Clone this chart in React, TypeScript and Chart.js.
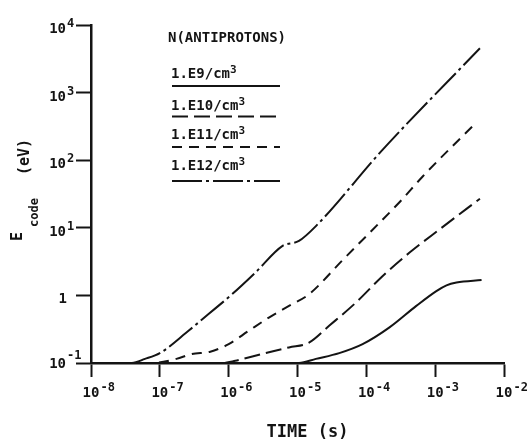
import { useEffect, useRef } from "react";
import { Chart, registerables } from "chart.js";

Chart.register(...registerables);

const FONT = '"DejaVu Sans Mono", "Liberation Mono", monospace';
const INK = "#141414";

// Axis decades
const timeTicks = [1e-8, 1e-7, 1e-6, 1e-5, 1e-4, 1e-3, 1e-2];
const energyTicks = [1e-1, 1, 1e1, 1e2, 1e3, 1e4];

// Text
const legendTitle = "N(ANTIPROTONS)";
const densityLabels = ["1.E9", "1.E10", "1.E11", "1.E12"];
const xTitle = "TIME (s)";

// Antiproton density 1e9 /cm^3
const timeN9 = [1e-8, 1.05e-5, 1.85e-5, 4.04e-5, 8.83e-5, 2.17e-4, 5.32e-4, 1.04e-3, 1.46e-3, 2.04e-3, 4.72e-3];
const energyN9 = [0.1, 0.1, 0.115, 0.14, 0.19, 0.336, 0.7, 1.16, 1.41, 1.55, 1.69];

// Antiproton density 1e10 /cm^3
const timeN10 = [1e-8, 7.9e-7, 1.25e-6, 3.06e-6, 7.52e-6, 1.47e-5, 2.88e-5, 7.08e-5, 1.73e-4, 4.25e-4, 1.16e-3, 4.47e-3];
const energyN10 = [0.1, 0.1, 0.108, 0.136, 0.17, 0.2, 0.355, 0.785, 1.94, 4.3, 9.5, 26.9];

// Antiproton density 1e11 /cm^3
const timeN11 = [1e-8, 7.9e-8, 1.74e-7, 2.91e-7, 5.41e-7, 1.0e-6, 1.96e-6, 3.84e-6, 7.52e-6, 1.47e-5, 4.51e-5, 1.11e-4, 3.03e-4, 6.64e-4, 4.0e-3];
const energyN11 = [0.1, 0.1, 0.115, 0.136, 0.147, 0.19, 0.3, 0.47, 0.7, 1.04, 3.32, 8.4, 23.9, 58, 365];

// Antiproton density 1e12 /cm^3
const timeN12 = [1e-8, 3.8e-8, 6.08e-8, 1.0e-7, 2.61e-7, 5.1e-7, 1.12e-6, 2.45e-6, 6.0e-6, 1.05e-5, 1.85e-5, 1.64e-4, 4.47e-3];
const energyN12 = [0.1, 0.1, 0.115, 0.14, 0.3, 0.53, 1.04, 2.18, 5.37, 6.4, 10.6, 135, 4530];

const seriesTimes = [timeN9, timeN10, timeN11, timeN12];
const seriesEnergies = [energyN9, energyN10, energyN11, energyN12];
const seriesDash = [[], [16, 6], [10, 7], [30, 4, 3, 4]];

function drawPower(ctx: CanvasRenderingContext2D, x: number, y: number, exp: number, baseSize: number, expSize: number, rise: number, align: "center" | "right") {
  ctx.font = `bold ${baseSize}px ${FONT}`;
  const bw = ctx.measureText("10").width;
  const left = align === "center" ? x - bw / 2 : x - bw;
  ctx.textAlign = "left";
  ctx.fillText("10", left, y);
  ctx.font = `bold ${expSize}px ${FONT}`;
  ctx.fillText(String(exp), left + bw + 1, y - rise);
}

const annotate = {
  id: "annotate",
  afterDraw(chart: any) {
    const ctx: CanvasRenderingContext2D = chart.ctx;
    const xs = chart.scales.x;
    const ys = chart.scales.y;
    const area = chart.chartArea;
    ctx.save();
    ctx.fillStyle = INK;
    ctx.strokeStyle = INK;
    ctx.textBaseline = "alphabetic";

    // Time tick labels
    xs.ticks.forEach((t: any) => {
      const px = xs.getPixelForValue(t.value);
      const exp = Math.round(Math.log10(t.value));
      drawPower(ctx, px, area.bottom + 34, exp, 14, 12, 6, "center");
    });

    // Energy tick labels
    ys.ticks.forEach((t: any, i: number) => {
      const py = ys.getPixelForValue(t.value);
      const exp = Math.round(Math.log10(t.value));
      const right = area.left - 25;
      if (exp === 0) {
        ctx.font = `bold 14px ${FONT}`;
        ctx.textAlign = "right";
        ctx.fillText("1", right + 1, py + 8);
      } else if (i === 0) {
        drawPower(ctx, right, py + 5, exp, 14, 12, 9, "right");
      } else {
        drawPower(ctx, right, py + 8, exp, 14, 12, 6, "right");
      }
    });

    // X title
    ctx.font = `bold 17px ${FONT}`;
    ctx.textAlign = "center";
    ctx.fillText(xTitle, (area.left + area.right) / 2 + 10, area.bottom + 74);

    // Y title, rotated: E with subscript "code", then (eV)
    ctx.save();
    ctx.rotate(-Math.PI / 2);
    ctx.textAlign = "left";
    ctx.font = `bold 15px ${FONT}`;
    ctx.fillText("E", -241, 22);
    ctx.font = `bold 12px ${FONT}`;
    ctx.fillText("code", -227, 38);
    ctx.font = `bold 15px ${FONT}`;
    ctx.fillText("(eV)", -175, 29);
    ctx.restore();

    // Legend
    const lx = area.left + 77;
    ctx.textAlign = "left";
    ctx.font = `bold 14px ${FONT}`;
    ctx.fillText(legendTitle, lx, area.top + 17);
    const textBase = [78, 110, 139, 170];
    const lineY = [86, 116.5, 147, 181];
    densityLabels.forEach((label, i) => {
      const tx = lx + 3;
      ctx.font = `bold 14px ${FONT}`;
      const main = `${label}/cm`;
      ctx.fillText(main, tx, textBase[i]);
      const w = ctx.measureText(main).width;
      ctx.font = `bold 11px ${FONT}`;
      ctx.fillText("3", tx + w, textBase[i] - 5);
      ctx.beginPath();
      ctx.lineWidth = 2;
      ctx.setLineDash(seriesDash[i]);
      ctx.moveTo(lx + 4, lineY[i]);
      ctx.lineTo(lx + 112, lineY[i]);
      ctx.stroke();
    });
    ctx.restore();
  },
};

export default function App() {
  const canvasRef = useRef<HTMLCanvasElement | null>(null);

  useEffect(() => {
    const canvas = canvasRef.current;
    if (!canvas) return;
    const datasets = seriesTimes.map((times, i) => ({
      label: densityLabels[i],
      data: times.map((t, j) => ({ x: t, y: seriesEnergies[i][j] })),
      borderColor: INK,
      borderWidth: 2,
      borderDash: seriesDash[i],
      pointRadius: 0,
      fill: false,
      cubicInterpolationMode: "monotone" as const,
    }));

    const axisCommon = {
      type: "logarithmic" as const,
      border: { display: true, color: INK, width: 2.5 },
      ticks: { display: false },
    };

    const chart = new Chart(canvas, {
      type: "line",
      data: { datasets },
      options: {
        animation: false,
        responsive: false,
        layout: { padding: { top: 25, right: 23, left: 0, bottom: 0 } },
        plugins: { legend: { display: false }, tooltip: { enabled: false } },
        scales: {
          x: {
            ...axisCommon,
            min: 1e-8,
            max: 1e-2,
            grid: { display: true, drawOnChartArea: false, drawTicks: true, tickLength: 14, tickWidth: 2, tickColor: INK, color: INK },
            afterBuildTicks: (scale: any) => {
              scale.ticks = timeTicks.map((v) => ({ value: v }));
            },
            afterFit: (scale: any) => {
              scale.height = 81;
            },
          },
          y: {
            ...axisCommon,
            min: 1e-1,
            max: 1e4,
            grid: { display: true, drawOnChartArea: false, drawTicks: true, tickLength: 15, tickWidth: 2, tickColor: INK, color: INK },
            afterBuildTicks: (scale: any) => {
              scale.ticks = energyTicks.map((v) => ({ value: v }));
            },
            afterFit: (scale: any) => {
              scale.width = 91;
            },
          },
        },
      },
      plugins: [annotate],
    });
    return () => chart.destroy();
  }, []);

  return (
    <canvas
      ref={canvasRef}
      width={527}
      height={444}
      style={{ position: "fixed", left: 0, top: 0, width: 527, height: 444, background: "#fff" }}
    />
  );
}
